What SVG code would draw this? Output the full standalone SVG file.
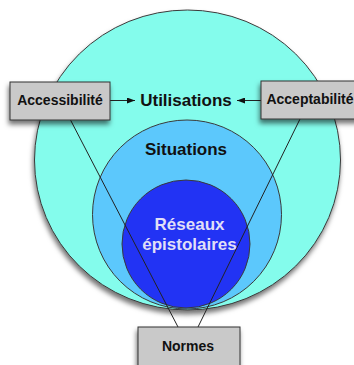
<svg xmlns="http://www.w3.org/2000/svg" width="354" height="365" viewBox="0 0 354 365">
<defs>
<filter id="sh" x="-20%" y="-20%" width="140%" height="150%">
<feDropShadow dx="-1" dy="4" stdDeviation="2.5" flood-color="#000" flood-opacity="0.55"/>
</filter>
<marker id="ah" viewBox="0 0 8 6" refX="8" refY="3" markerWidth="8" markerHeight="6" markerUnits="userSpaceOnUse" orient="auto">
<path d="M0,0 L8,3 L0,6 Z" fill="#111"/>
</marker>
<style>
.c{stroke:#3a3a3a;stroke-width:1}
.box{fill:#c9c9c9;stroke:#333;stroke-width:1}
.t{font-family:"Liberation Sans",Arial,sans-serif;font-weight:bold;text-anchor:middle}
.bl{font-size:14px;fill:#111}
.big{font-size:17px;fill:#111}
.ln{stroke:#222;stroke-width:1;fill:none}
</style>
</defs>
<rect width="354" height="365" fill="#fff"/>
<g id="circles">
<ellipse id="utilisations-circle" class="c" cx="187.5" cy="160" rx="153" ry="150" fill="#84fcec" filter="url(#sh)"/>
<circle id="situations-circle" class="c" cx="187" cy="214.5" r="94.5" fill="#5cc8fc"/>
<circle id="reseaux-circle" class="c" cx="186" cy="244" r="64" fill="#2233f4"/>
</g>
<g id="connectors">
<line class="ln" x1="70" y1="119" x2="178" y2="327"/>
<line class="ln" x1="300" y1="119" x2="198" y2="327"/>
<line class="ln" x1="110" y1="100.5" x2="135" y2="100.5" marker-end="url(#ah)"/>
<line class="ln" x1="261" y1="100.5" x2="237" y2="100.5" marker-end="url(#ah)"/>
</g>
<g id="utilisations"><text class="t big" x="186" y="106">Utilisations</text></g>
<g id="situations"><text class="t big" x="186" y="155">Situations</text></g>
<g id="reseaux"><text class="t big" x="189.5" y="230" fill="#e0dff7" style="fill:#e0dff7">Réseaux</text><text class="t big" x="189.5" y="250" style="fill:#e0dff7">épistolaires</text></g>
<g id="accessibilite"><rect class="box" x="10" y="82" width="100" height="38" filter="url(#sh)"/><text class="t bl" x="60" y="105">Accessibilité</text></g>
<g id="acceptabilite"><rect class="box" x="261" y="81" width="100" height="38" filter="url(#sh)"/><text class="t bl" x="310" y="104">Acceptabilité</text></g>
<g id="normes"><rect class="box" x="138" y="327" width="102" height="45" filter="url(#sh)"/><text class="t bl" x="188" y="351">Normes</text></g>
</svg>
